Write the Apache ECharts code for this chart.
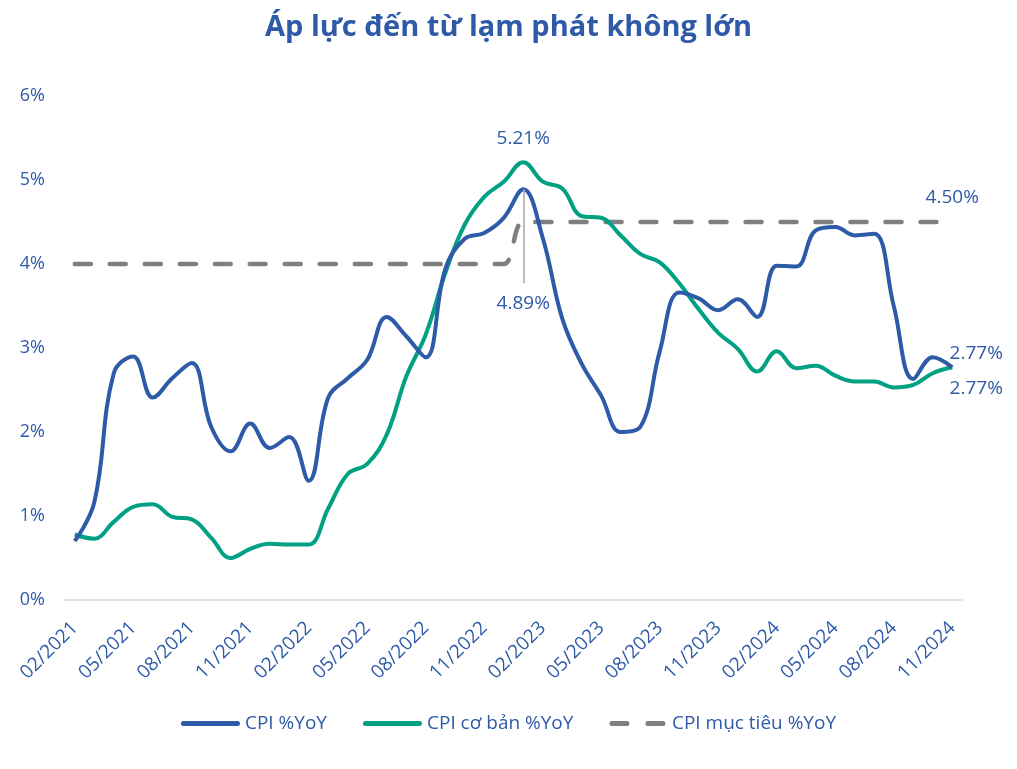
<!DOCTYPE html>
<html>
<head>
<meta charset="utf-8">
<script src="https://cdn.jsdelivr.net/npm/echarts@6/dist/echarts.min.js"></script>
<style>
html,body{margin:0;padding:0;background:#fff;}
#chart{width:1017px;height:769px;}
</style>
</head>
<body>
<div id="chart"></div>
<script>
var categories = ['02/2021','03/2021','04/2021','05/2021','06/2021','07/2021','08/2021','09/2021','10/2021','11/2021','12/2021',
'01/2022','02/2022','03/2022','04/2022','05/2022','06/2022','07/2022','08/2022','09/2022','10/2022','11/2022','12/2022',
'01/2023','02/2023','03/2023','04/2023','05/2023','06/2023','07/2023','08/2023','09/2023','10/2023','11/2023','12/2023',
'01/2024','02/2024','03/2024','04/2024','05/2024','06/2024','07/2024','08/2024','09/2024','10/2024','11/2024'];

var cpi = [0.70,1.16,2.70,2.90,2.41,2.64,2.82,2.06,1.77,2.10,1.81,
1.94,1.42,2.41,2.64,2.86,3.37,3.14,2.89,3.94,4.30,4.37,4.55,
4.89,4.31,3.35,2.81,2.43,2.00,2.06,2.96,3.66,3.59,3.45,3.58,
3.37,3.98,3.97,4.40,4.44,4.34,4.36,3.50,2.63,2.89,2.77];

var coreCpi = [0.78,0.73,0.93,1.11,1.14,0.99,0.96,0.74,0.50,0.61,0.67,
0.66,0.66,1.09,1.50,1.62,1.97,2.66,3.16,3.89,4.47,4.80,4.98,
5.21,4.98,4.90,4.57,4.55,4.34,4.12,4.02,3.77,3.46,3.18,2.99,
2.72,2.96,2.76,2.79,2.67,2.60,2.60,2.53,2.56,2.70,2.77];

var target = [4,4,4,4,4,4,4,4,4,4,4,
4,4,4,4,4,4,4,4,4,4,4,4,
4.5,4.5,4.5,4.5,4.5,4.5,4.5,4.5,4.5,4.5,4.5,4.5,
4.5,4.5,4.5,4.5,4.5,4.5,4.5,4.5,4.5,4.5,4.5];

var yTicks = [0,1,2,3,4,5,6];
var peakIndex = 23;
var leaderEnd = 3.77;

var TXT = '#2E5AA8';
var BLUE = '#2D5BA7';
var GREEN = '#00A083';
var GREY = '#7F7F7F';
var FONT = 'Open Sans';
var last = categories.length - 1;

function fmt(v){ return v.toFixed(2) + '%'; }
function pointLabel(idx, values, pos, dist, off){
  return {
    coord:[categories[idx], values[idx]],
    value:values[idx],
    symbol:'circle', symbolSize:1,
    itemStyle:{color:'rgba(0,0,0,0)'},
    label:{show:true, position:pos, distance:dist, offset:off || [0,0],
      color:TXT, fontFamily:FONT, fontSize:19, formatter:fmt(values[idx])}
  };
}

var chart = echarts.init(document.getElementById('chart'), null, {renderer:'canvas'});
chart.setOption({
  animation:false,
  backgroundColor:'#fff',
  title:{
    text:'Áp lực đến từ lạm phát không lớn',
    left:'center', top:8,
    textStyle:{color:TXT, fontFamily:FONT, fontWeight:'bold', fontSize:29}
  },
  legend:{
    bottom:31, left:'center',
    itemWidth:59, itemHeight:5, itemGap:36,
    textStyle:{color:TXT, fontFamily:FONT, fontSize:19},
    data:[
      {name:'CPI %YoY', icon:'path://M2.5,0H56.5A2.5,2.5,0,0,1,56.5,5H2.5A2.5,2.5,0,0,1,2.5,0Z'},
      {name:'CPI cơ bản %YoY', icon:'path://M2.5,0H56.5A2.5,2.5,0,0,1,56.5,5H2.5A2.5,2.5,0,0,1,2.5,0Z'},
      {name:'CPI mục tiêu %YoY', icon:'path://M2.5,0H17.5A2.5,2.5,0,0,1,17.5,5H2.5A2.5,2.5,0,0,1,2.5,0Z M38.5,0H53.5A2.5,2.5,0,0,1,53.5,5H38.5A2.5,2.5,0,0,1,38.5,0Z'}
    ]
  },
  grid:{left:65, right:55, top:96, bottom:169, containLabel:false},
  xAxis:{
    type:'category',
    data:categories,
    boundaryGap:true,
    axisLine:{show:true, lineStyle:{color:'#D9D9D9', width:1.5}},
    axisTick:{show:false},
    axisLabel:{interval:2, rotate:45, margin:25, color:TXT, fontFamily:FONT, fontSize:19}
  },
  yAxis:{
    type:'value',
    min:yTicks[0], max:yTicks[yTicks.length-1], interval:1,
    axisLine:{show:false},
    axisTick:{show:false},
    splitLine:{show:false},
    axisLabel:{formatter:'{value}%', color:TXT, fontFamily:FONT, fontSize:18, margin:20}
  },
  series:[
    {
      name:'CPI %YoY', type:'line', data:cpi, smooth:0.4,
      symbol:'none', z:4,
      lineStyle:{color:BLUE, width:4},
      itemStyle:{color:BLUE},
      markLine:{
        silent:true, symbol:['none','none'],
        lineStyle:{color:'#A6A6A6', width:1.5, type:'solid'},
        label:{show:true, position:'end', distance:11, color:TXT, fontFamily:FONT, fontSize:19, formatter:fmt(cpi[peakIndex])},
        data:[[{coord:[categories[peakIndex], cpi[peakIndex]]},{coord:[categories[peakIndex], leaderEnd]}]]
      },
      markPoint:{silent:true, data:[pointLabel(last, cpi, 'top', 4, [24,0])]}
    },
    {
      name:'CPI cơ bản %YoY', type:'line', data:coreCpi, smooth:0.4,
      symbol:'none', z:3,
      lineStyle:{color:GREEN, width:4},
      itemStyle:{color:GREEN},
      markPoint:{silent:true, data:[
        pointLabel(peakIndex, coreCpi, 'top', 14),
        pointLabel(last, coreCpi, 'bottom', 11, [24,0])
      ]}
    },
    {
      name:'CPI mục tiêu %YoY', type:'line', data:target, smooth:0.4,
      symbol:'none', z:2,
      lineStyle:{color:GREY, width:4.5, type:[16,19], cap:'round'},
      itemStyle:{color:GREY},
      markPoint:{silent:true, data:[pointLabel(last, target, 'top', 14)]}
    }
  ]
});
</script>
</body>
</html>
